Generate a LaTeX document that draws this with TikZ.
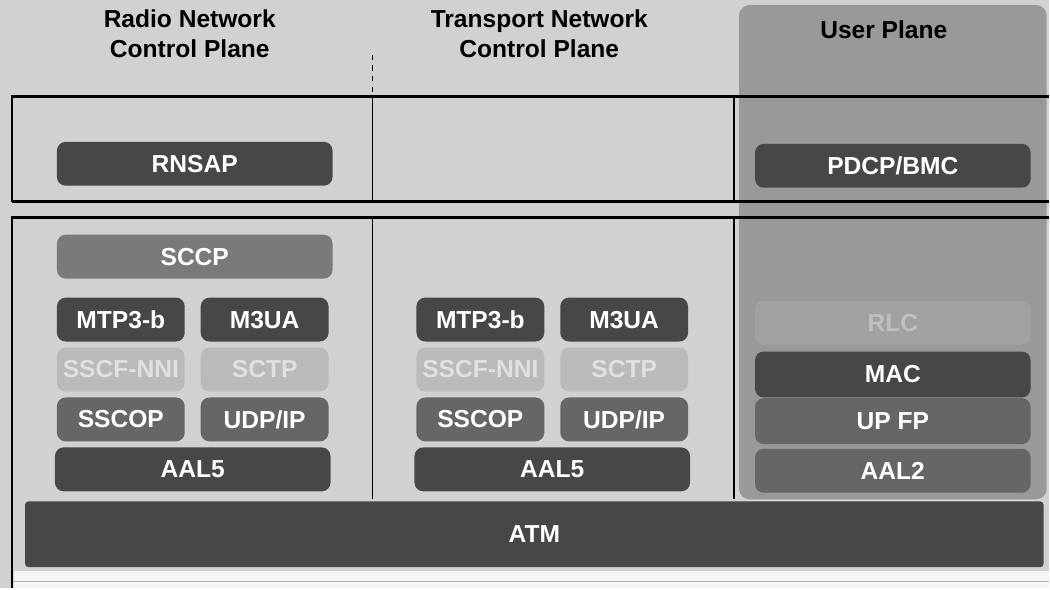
\documentclass[tikz,border=0pt]{standalone}
\usepackage{fontspec}
\setmainfont{Liberation Sans}
\usepackage{tikz}
\usetikzlibrary{positioning}

\begin{document}
\begin{tikzpicture}[x=0.02cm,y=-0.02cm,node distance=0cm]
  \tikzstyle{layer}=[rounded corners=5pt,inner sep=0pt,text=white,font=\bfseries\fontsize{14}{16}\selectfont,minimum height=0.88cm]
  \tikzstyle{wide}=[layer,minimum width=5.52cm]
  \tikzstyle{half}=[layer,minimum width=2.56cm]
  \tikzstyle{dark}=[fill=black!72]
  \tikzstyle{mid}=[fill=black!60]
  \tikzstyle{pale}=[fill=black!27,text=white!88!black]
  \tikzstyle{head}=[align=center,font=\bfseries\fontsize{14}{17}\selectfont]
  \tikzstyle{rule}=[line width=1.6pt]
  % background and user plane column
  \fill[black!18] (0,0) rectangle (1050,589);
  \fill[black!4] (14,572) rectangle (1050,589);
  \fill[black!40,rounded corners=6pt] (740,5) rectangle (1048,500);
  % plane titles
  \node[head] (rnc) at (190,34) {Radio Network\\Control Plane};
  \node[head] (tnc) at (540,34) {Transport Network\\Control Plane};
  \node[head] (upl) at (885,30) {User Plane};
  % frames and dividers
  \draw[rule] (12,202) -- (12,97) -- (1050,97);
  \draw[rule] (12,202) -- (1050,202);
  \draw[rule] (12,589) -- (12,218) -- (1050,218);
  \draw[black!30] (14,582) -- (1050,582);
  \draw[thick,dashed] (373,55) -- (373,97);
  \draw[thick] (373,97) -- (373,202) (373,218) -- (373,500);
  \draw[thick] (735,97) -- (735,202) (735,218) -- (735,500);
  % radio network layer
  \node[wide,dark] (rnsap) at (195,164) {RNSAP};
  \node[wide,dark] (pdcp) at (894,166) {PDCP/BMC};
  % transport network layer
  \node[wide,mid,fill=black!52] (sccp) at (195,257) {SCCP};
  \foreach \c/\x in {r/193,t/553} {
    \node[half,dark] (\c mtp) at (\x-72,320) {MTP3-b};
    \node[half,dark] (\c m3ua) at (\x+72,320) {M3UA};
    \node[half,pale] (\c sscf) at (\x-72,370) {SSCF-NNI};
    \node[half,pale] (\c sctp) at (\x+72,370) {SCTP};
    \node[half,mid] (\c sscop) at (\x-72,420) {SSCOP};
    \node[half,mid] (\c udp) at (\x+72,420) {UDP/IP};
    \node[wide,dark] (\c aal) at (\x,470) {AAL5};
  }
  \node[wide,fill=black!37,text=white!75!black] (rlc) at (894,323) {RLC};
  \node[wide,dark,minimum height=0.92cm] (mac) at (894,375) {MAC};
  \node[wide,mid,minimum height=0.92cm,below=of mac] (upfp) {UP FP};
  \node[wide,mid,below=0.08cm of upfp] (aal2) {AAL2};
  \node[layer,dark,rounded corners=2pt,minimum width=20.4cm,minimum height=1.32cm] (atm) at (535,535) {ATM};
\end{tikzpicture}
\end{document}
